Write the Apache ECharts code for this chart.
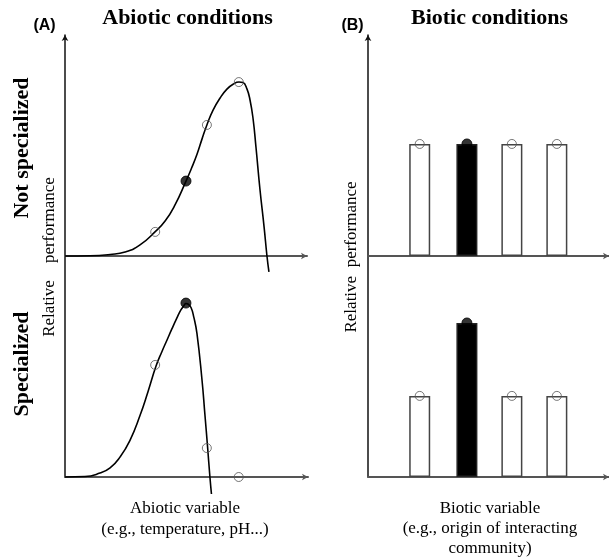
<!DOCTYPE html>
<html>
<head>
<meta charset="utf-8">
<script src="https://cdn.jsdelivr.net/npm/echarts@6/dist/echarts.min.js"></script>
<style>html,body{margin:0;padding:0;background:#fff}#c{width:609px;height:557px}</style>
</head>
<body>
<div id="c"></div>
<script>
// ---- data ----
const abioticX = [4.1, 5.5, 6.45, 7.9];
const focalIndex = 1;
const notSpecCurve = [[0,0],[1.14,0.01],[2.05,0.07],[2.73,0.18],[3.41,0.5],[4.09,1.09],[4.55,1.58],[5.0,2.31],[5.5,3.39],[5.75,3.97],[6.0,4.6],[6.23,5.3],[6.45,5.93],[6.73,6.6],[7.05,7.15],[7.36,7.55],[7.64,7.77],[7.91,7.87],[8.09,7.85],[8.27,7.56],[8.41,7.06],[8.55,6.2],[8.68,4.93],[8.86,3.03],[9.05,1.31],[9.18,0],[9.27,-0.72]];
const notSpecPoints = [1.09, 3.39, 5.93, 7.87];
const specCurve = [[0,0],[0.91,0.02],[1.59,0.18],[2.05,0.41],[2.5,0.9],[2.95,1.65],[3.41,2.78],[3.77,3.85],[4.14,5.02],[4.41,5.68],[4.64,6.2],[4.86,6.7],[5.09,7.2],[5.27,7.56],[5.41,7.76],[5.5,7.85],[5.59,7.83],[5.73,7.67],[5.86,7.22],[6.0,6.5],[6.23,4.39],[6.36,2.85],[6.48,1.4],[6.59,0],[6.66,-0.77]];
const specPoints = [5.07, 7.87, 1.31, 0];
const bioticX = [1.15, 2.2, 3.2, 4.2];
const notSpecBars = [5.07, 5.07, 5.07, 5.07];
const specBars = [3.67, 6.97, 3.67, 3.67];

// ---- chart ----
const chart = echarts.init(document.getElementById('c'), null, {renderer:'canvas'});
const serif = '"Liberation Serif", "Times New Roman", serif';
const xLine = {show:true, onZero:true, symbol:['none','arrow'], symbolSize:[5,6], lineStyle:{color:'#555', width:2}};
const yLine = {show:true, onZero:true, symbol:['none','arrow'], symbolSize:[5,6], lineStyle:{color:'#111', width:1.5}};
function xAx(grid, min, max, line){
  return {type:'value', gridIndex:grid, min:min, max:max, axisLine:line, axisTick:{show:false}, axisLabel:{show:false}, splitLine:{show:false}};
}
function yAx(grid, min, max, show){
  return {type:'value', gridIndex:grid, min:min, max:max, axisLine: show ? yLine : {show:false}, axisTick:{show:false}, axisLabel:{show:false}, splitLine:{show:false}};
}
function markerData(xs, ys){
  return xs.map((x,i)=>({value:[x, ys[i]], symbolSize: i===focalIndex ? 10 : 9,
    itemStyle: i===focalIndex ? {color:'#000', borderColor:'#000', borderWidth:1} : {color:'rgba(255,255,255,0)', borderColor:'#555', borderWidth:1}}));
}
function barData(xs, ys){
  return xs.map((x,i)=>({value:[x, ys[i]], itemStyle: i===focalIndex ? {color:'#000', borderColor:'#222', borderWidth:1.5} : {color:'#fff', borderColor:'#444', borderWidth:1.5}}));
}
const curveStyle = {type:'line', smooth:0.5, showSymbol:false, lineStyle:{color:'#000', width:1.6}, silent:true};

const option = {
  animation:false,
  backgroundColor:'#fff',
  grid:[
    {left:65, top:35, width:242, height:442},
    {left:65, top:256, width:243, height:265.2},
    {left:368, top:35, right:0, height:442},
    {left:368, top:256, right:0, height:221}
  ],
  xAxis:[
    xAx(0, 0, 11, xLine),
    xAx(1, 0, 11.05, xLine),
    xAx(2, 0, 5.36, xLine),
    xAx(3, 0, 5.36, xLine)
  ],
  yAxis:[
    yAx(0, -10, 10, true),
    yAx(1, -2, 10, false),
    yAx(2, -10, 10, true),
    yAx(3, 0, 10, false)
  ],
  series:[
    Object.assign({}, curveStyle, {xAxisIndex:0, yAxisIndex:0, data:notSpecCurve}),
    Object.assign({}, curveStyle, {xAxisIndex:1, yAxisIndex:1, data:specCurve}),
    {type:'scatter', xAxisIndex:0, yAxisIndex:0, symbol:'circle', data:markerData(abioticX, notSpecPoints), z:5},
    {type:'scatter', xAxisIndex:1, yAxisIndex:1, symbol:'circle', data:markerData(abioticX, specPoints), z:5},
    {type:'bar', xAxisIndex:2, yAxisIndex:2, barWidth:21, data:barData(bioticX, notSpecBars)},
    {type:'bar', xAxisIndex:3, yAxisIndex:3, barWidth:21, data:barData(bioticX, specBars)},
    {type:'scatter', xAxisIndex:2, yAxisIndex:2, symbol:'circle', data:markerData(bioticX, notSpecBars), z:5},
    {type:'scatter', xAxisIndex:3, yAxisIndex:3, symbol:'circle', data:markerData(bioticX, specBars), z:5}
  ],
  graphic:[
    {type:'text', x:44.5, y:25.5, style:{text:'(A)', font:'bold 16px "Liberation Sans", Arial, sans-serif', align:'center', verticalAlign:'middle', fill:'#000'}},
    {type:'text', x:352.5, y:25.5, style:{text:'(B)', font:'bold 16px "Liberation Sans", Arial, sans-serif', align:'center', verticalAlign:'middle', fill:'#000'}},
    {type:'text', x:187.5, y:18, style:{text:'Abiotic conditions', font:'bold 22px ' + serif, align:'center', verticalAlign:'middle', fill:'#000'}},
    {type:'text', x:489.5, y:18, style:{text:'Biotic conditions', font:'bold 22px ' + serif, align:'center', verticalAlign:'middle', fill:'#000'}},
    {type:'text', x:22, y:148, rotation:Math.PI/2, style:{text:'Not specialized', font:'bold 22px ' + serif, align:'center', verticalAlign:'middle', fill:'#000'}},
    {type:'text', x:22, y:364, rotation:Math.PI/2, style:{text:'Specialized', font:'bold 22px ' + serif, align:'center', verticalAlign:'middle', fill:'#000'}},
    {type:'text', x:50, y:257, rotation:Math.PI/2, style:{text:'Relative    performance', font:'17px ' + serif, align:'center', verticalAlign:'middle', fill:'#000'}},
    {type:'text', x:352, y:257, rotation:Math.PI/2, style:{text:'Relative  performance', font:'17px ' + serif, align:'center', verticalAlign:'middle', fill:'#000'}},
    {type:'text', x:185, y:509, style:{text:'Abiotic variable', font:'17px ' + serif, align:'center', verticalAlign:'middle', fill:'#000'}},
    {type:'text', x:185, y:530, style:{text:'(e.g., temperature, pH...)', font:'17px ' + serif, align:'center', verticalAlign:'middle', fill:'#000'}},
    {type:'text', x:490, y:509, style:{text:'Biotic variable', font:'17px ' + serif, align:'center', verticalAlign:'middle', fill:'#000'}},
    {type:'text', x:490, y:529, style:{text:'(e.g., origin of interacting', font:'17px ' + serif, align:'center', verticalAlign:'middle', fill:'#000'}},
    {type:'text', x:490, y:549, style:{text:'community)', font:'17px ' + serif, align:'center', verticalAlign:'middle', fill:'#000'}}
  ]
};
chart.setOption(option);
</script>
</body>
</html>
